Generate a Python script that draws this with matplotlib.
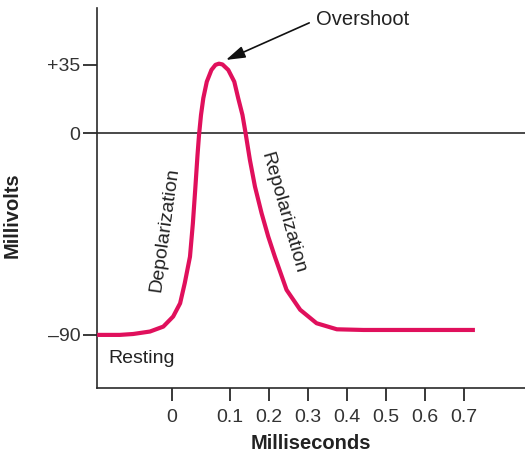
import numpy as np
import matplotlib
matplotlib.use("Agg")
import matplotlib.pyplot as plt

plt.rcParams['font.family'] = ['Liberation Sans', 'DejaVu Sans']

# action potential trace (ms, mV)
time_ms = [-0.129, -0.090, -0.067, -0.038, -0.015, 0.002, 0.014, 0.022,
           0.031, 0.036, 0.040, 0.044, 0.0466, 0.050, 0.054, 0.060, 0.068,
           0.075, 0.081, 0.087, 0.097, 0.111, 0.121, 0.132, 0.140, 0.151,
           0.164, 0.181, 0.198, 0.215, 0.245, 0.280, 0.322, 0.374, 0.442,
           0.728]
millivolts = [-90, -90, -89.6, -88.5, -86.3, -81.8, -75.9, -66.9,
              -55.1, -40.2, -25.3, -9.7, -0.8, 9.3, 17.9, 26.3, 32.3,
              34.9, 35.5, 35.1, 32.3, 26.3, 17.9, 9.3, 0, -11.9,
              -23.8, -35.7, -46.1, -55.1, -69.9, -78.8, -84.8, -87.5, -87.8,
              -87.8]

xtick_vals = [0, 0.1, 0.2, 0.3, 0.4, 0.5, 0.6, 0.7]
xtick_labels = ['0', '0.1', '0.2', '0.3', '0.4', '0.5', '0.6', '0.7']
ytick_vals = [-90, 0, 35]
ytick_labels = ['\u201390', '0', '+35']


# the drawing is schematic: the first 0.1 ms and the positive mV range are not to scale
def fwd_x(x):
    x = np.asarray(x, dtype=float)
    return np.where(x < 0.1, x * 580, 58 + (x - 0.1) * 390)


def inv_x(p):
    p = np.asarray(p, dtype=float)
    return np.where(p < 58, p / 580, 0.1 + (p - 58) / 390)


def fwd_y(y):
    y = np.asarray(y, dtype=float)
    return np.where(y < 0, y * 2.241, y * 1.96)


def inv_y(p):
    p = np.asarray(p, dtype=float)
    return np.where(p < 0, p / 2.241, p / 1.96)


fig = plt.figure(figsize=(5.25, 4.57), dpi=100)
ax = fig.add_axes([97 / 525, 69 / 457, 428 / 525, 380 / 457])
ax.set_xscale('function', functions=(fwd_x, inv_x))
ax.set_yscale('function', functions=(fwd_y, inv_y))
ax.set_xlim(-0.1293, 0.8564)
ax.set_ylim(-113.7, 63.9)

ink = '#2a2a2a'
ax.axhline(0, color=ink, lw=1.2, zorder=1)
ax.plot(time_ms, millivolts, color='#e0105c', lw=3.0, solid_capstyle='butt',
        solid_joinstyle='round', zorder=3)

for side in ['top', 'right']:
    ax.spines[side].set_visible(False)
for side in ['left', 'bottom']:
    ax.spines[side].set_color(ink)
    ax.spines[side].set_linewidth(1.2)

ax.set_xticks(xtick_vals)
ax.set_xticklabels(xtick_labels)
ax.set_yticks(ytick_vals)
ax.set_yticklabels(ytick_labels)
ax.minorticks_off()
ax.tick_params(axis='x', length=9, width=1.3, color=ink, labelsize=14,
               labelcolor='#333333', pad=6)
ax.tick_params(axis='y', length=10, width=1.3, color=ink, labelsize=14,
               labelcolor='#333333', pad=2)

ax.set_xlabel('Milliseconds', fontsize=14.5, fontweight='bold', color='#222222',
              labelpad=6)
ax.set_ylabel('Millivolts', fontsize=14.5, fontweight='bold', color='#222222')
ax.yaxis.set_label_coords(-0.175, 0.455)

ax.annotate('Overshoot', xy=(0.093, 37.4), xytext=(0.32, 57.8),
            fontsize=14.5, color='#222222', ha='left', va='center',
            arrowprops=dict(arrowstyle='-|>,head_length=0.8,head_width=0.25',
                            color='#111111', lw=1.2, shrinkA=3, shrinkB=0,
                            relpos=(0, 0.5)))
ax.text(-0.012, -43.2, 'Depolarization', fontsize=14, color='#222222',
        rotation=82, ha='center', va='center', rotation_mode='anchor')
ax.text(0.236, -35.6, 'Repolarization', fontsize=14, color='#222222',
        rotation=-74, ha='center', va='center', rotation_mode='anchor')
ax.text(-0.110, -100.7, 'Resting', fontsize=14, color='#222222',
        ha='left', va='center')

fig.savefig('out.png', dpi=100)
